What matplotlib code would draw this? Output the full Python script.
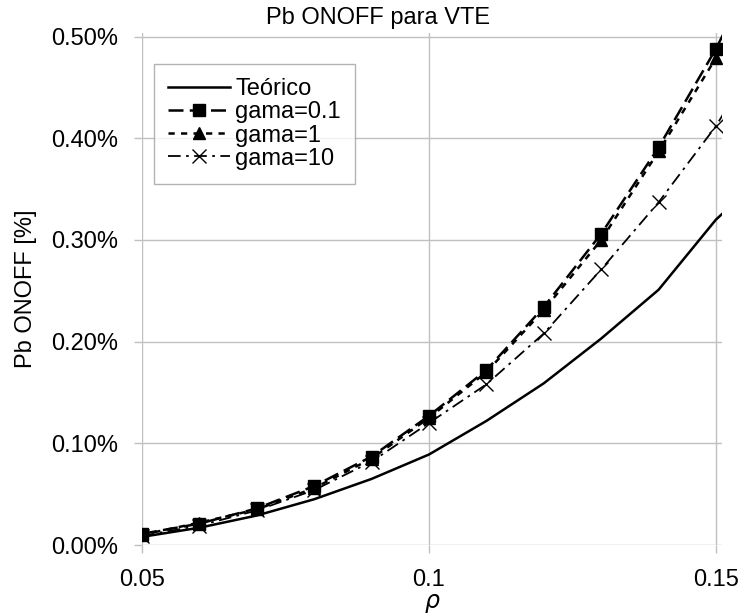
import matplotlib
matplotlib.use("Agg")
import matplotlib.pyplot as plt
from matplotlib.ticker import FuncFormatter

plt.rcParams["font.family"] = ["Liberation Sans", "DejaVu Sans"]

# rho values (last point lies just outside the x range and is clipped, as in the original)
rho = [0.05, 0.06, 0.07, 0.08, 0.09, 0.10, 0.11, 0.12, 0.13, 0.14, 0.15, 0.16]
teorico = [0.008, 0.017, 0.029, 0.045, 0.065, 0.089, 0.122, 0.159, 0.203, 0.251, 0.320, 0.372]
gama_01 = [0.011, 0.021, 0.036, 0.058, 0.087, 0.127, 0.172, 0.234, 0.306, 0.391, 0.488, 0.600]
gama_1 = [0.010, 0.022, 0.035, 0.056, 0.085, 0.125, 0.170, 0.231, 0.300, 0.387, 0.479, 0.590]
gama_10 = [0.009, 0.019, 0.034, 0.054, 0.082, 0.120, 0.158, 0.208, 0.271, 0.337, 0.412, 0.505]

GRID = "#c0c0c0"
W, H = 742, 614

fig = plt.figure(figsize=(W / 100, H / 100), dpi=100)
ax = fig.add_axes([142 / W, 1 - 545 / H, (722 - 142) / W, (545 - 33) / H])

ax.plot(rho, teorico, color="black", linewidth=1.8, label="Teórico")
ax.plot(rho, gama_01, color="black", linewidth=1.8, linestyle=(0, (6, 2.5)),
        marker="s", markersize=8, label="gama=0.1")
ax.plot(rho, gama_1, color="black", linewidth=1.8, linestyle=(0, (2.5, 2.5)),
        marker="^", markersize=8, label="gama=1")
ax.plot(rho, gama_10, color="black", linewidth=1.3, linestyle=(0, (7, 3, 1.5, 3)),
        marker="x", markersize=10, markeredgewidth=1.0, label="gama=10")

ax.set_xlim(0.05, 0.15105)
ax.set_ylim(0, 0.5035)
ax.set_xticks([0.05, 0.1, 0.15])
ax.set_xticklabels(["0.05", "0.1", "0.15"])
ax.set_yticks([0.0, 0.1, 0.2, 0.3, 0.4, 0.5])
ax.yaxis.set_major_formatter(FuncFormatter(lambda v, _: f"{v:.2f}%"))
ax.grid(True, color=GRID, linewidth=1.0)
ax.set_axisbelow(True)
for side in ("top", "right", "left", "bottom"):
    ax.spines[side].set_visible(False)
ax.tick_params(axis="both", colors=GRID, length=5.5, width=1.0, labelsize=17,
               labelcolor="black")
ax.tick_params(axis="x", pad=12)
ax.tick_params(axis="y", pad=12)

ax.set_xlabel(r"$\rho$", fontsize=17)
ax.xaxis.set_label_coords(0.5, -(592 - 545) / (545 - 33), transform=ax.transAxes)
ax.set_ylabel("Pb ONOFF [%]", fontsize=17)
ax.yaxis.set_label_coords(-(142 - 37) / (722 - 142), 0.5)
fig.text(378 / W, 1 - 18 / H, "Pb ONOFF para VTE", fontsize=17,
         ha="center", va="center")

leg = ax.legend(loc="upper left", bbox_to_anchor=((154 - 142) / 580, (545 - 64) / 512),
                fontsize=17, frameon=True, fancybox=False, edgecolor="#a0a0a0",
                handlelength=2.6, handletextpad=0.25, labelspacing=0.05,
                borderpad=0.6, borderaxespad=0)
leg.get_frame().set_linewidth(1.0)

fig.savefig("out.png", dpi=100)
